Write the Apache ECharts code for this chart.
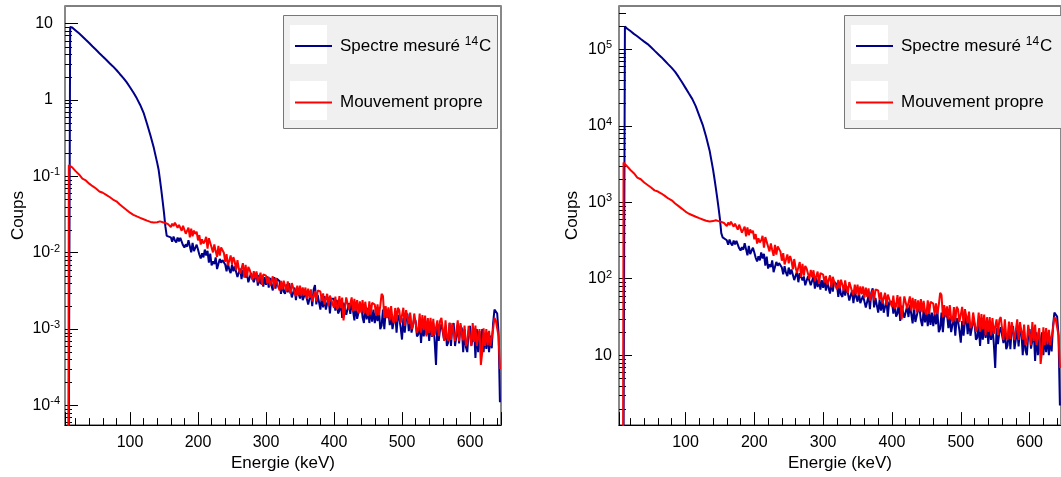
<!DOCTYPE html>
<html><head><meta charset="utf-8">
<script src="https://cdn.jsdelivr.net/npm/echarts@6/dist/echarts.min.js"></script>
<style>html,body{margin:0;padding:0;background:#fff}#c{width:1061px;height:477px}</style>
</head><body><div id="c"></div>
<script>
// ---------- data ----------
const seriesNames = ['Spectre mesuré ¹⁴C', 'Mouvement propre'];

// bin energies (keV)
const energies = [
  5, 9, 10, 12, 15, 20, 25, 30, 35, 40, 45, 50, 55, 60, 65, 70, 75, 80, 85, 90, 95, 100,
  105, 110, 115, 120, 125, 130, 135, 140,
  142, 144, 146, 148, 150, 152, 154, 156,
  160, 162, 164, 166, 168, 170, 172, 174, 176, 178,
  180, 182, 184, 186, 188, 190, 192, 194, 196, 198,
  200, 202, 204, 206, 208, 210, 212, 214, 216, 218,
  220, 222, 224, 226, 228, 230, 232, 234, 236, 238,
  240, 242, 244, 246, 248, 250, 252, 254, 256, 258,
  260, 262, 264, 266, 268, 270, 272, 274, 276, 278,
  280, 282, 284, 286, 288, 290, 292, 294, 296, 298,
  300, 302, 304, 306, 308, 310, 312, 314, 316, 318,
  320, 322, 324, 326, 328, 330, 332, 334, 336, 338,
  340, 342, 344, 346, 348, 350, 352, 354, 356, 358,
  360, 362, 364, 366, 368, 370, 372, 374, 376, 378,
  380, 382, 384, 386, 388, 390, 392, 394, 396, 398,
  400, 402, 404, 406, 408, 410, 412, 414, 416, 418,
  420, 422, 424, 426, 428, 430, 432, 434, 436, 438,
  440, 442, 444, 446, 448, 450, 452, 454, 456, 458,
  460, 462, 464, 466, 468, 470, 472, 474, 476, 478,
  480, 482, 484, 486, 488, 490, 492, 494, 496, 498,
  500, 502, 504, 506, 508, 510, 512, 514, 516, 518,
  520, 522, 524, 526, 528, 530, 532, 534, 536, 538,
  540, 542, 544, 546, 548, 550, 552, 554, 556, 558,
  560, 562, 564, 566, 568, 570, 572, 574, 576, 578,
  580, 582, 584, 586, 588, 590, 592, 594, 596, 598,
  600, 602, 604, 606, 608, 610, 612, 614, 616, 618,
  620, 622, 624, 626, 628, 630, 632, 634, 636, 638,
  640, 642, 644];

// left panel: normalised spectra
const spectreLeft = [
  1e-7, 1e-7, 1e-7, 9.0, 8.91, 8.15, 7.45, 6.79, 6.14, 5.56, 5.02, 4.54, 4.10, 3.71, 3.36, 3.03, 2.75, 2.47, 2.19, 1.95, 1.71, 1.47,
  1.25, 1.05, 0.861, 0.679, 0.488, 0.345, 0.236, 0.150,
  0.123, 0.0910, 0.0667, 0.0475, 0.0333, 0.0221, 0.0166, 0.0158,
  0.0159, 0.0139, 0.0163, 0.0145, 0.0136, 0.0158, 0.0141, 0.0156, 0.0151, 0.0125,
  0.0117, 0.0129, 0.0120, 0.0146, 0.0140, 0.0101, 0.0134, 0.0105, 0.0116, 0.0127,
  0.0110, 0.0094, 0.0084, 0.0098, 0.0087, 0.0110, 0.0092, 0.0106, 0.0074, 0.0097,
  0.0068, 0.0077, 0.0071, 0.0087, 0.0061, 0.0064, 0.0083, 0.0074, 0.0080, 0.0076,
  0.0070, 0.0057, 0.0073, 0.0060, 0.0054, 0.0070, 0.0057, 0.0066, 0.0063, 0.0048,
  0.0050, 0.0062, 0.0045, 0.0059, 0.0057, 0.00475, 0.00536, 0.0041, 0.00432, 0.0054,
  0.0052, 0.0041, 0.00435, 0.0054, 0.0037, 0.00512, 0.00389, 0.0050, 0.0036, 0.0048,
  0.0038, 0.0049, 0.0035, 0.00468, 0.00372, 0.0032, 0.0048, 0.00339, 0.00457, 0.0044,
  0.00422, 0.0029, 0.0040, 0.00309, 0.0029, 0.00385, 0.00302, 0.0040, 0.0038, 0.0026,
  0.00275, 0.0035, 0.0024, 0.00335, 0.0035, 0.00251, 0.00337, 0.0024, 0.00251, 0.0030,
  0.00286, 0.0021, 0.00222, 0.0030, 0.0020, 0.0033, 0.00376, 0.00211, 0.0028, 0.00285,
  0.0018, 0.00265, 0.00192, 0.0027, 0.0018, 0.00191, 0.00259, 0.0016, 0.0025, 0.00236,
  0.0025, 0.00175, 0.00242, 0.0016, 0.00175, 0.0024, 0.0014, 0.00222, 0.0023, 0.00154,
  0.0015, 0.00218, 0.00158, 0.0023, 0.00219, 0.0013, 0.0021, 0.00136, 0.0013, 0.00196,
  0.0021, 0.00143, 0.0012, 0.00198, 0.00134, 0.0019, 0.0012, 0.00185, 0.00125, 0.0018,
  0.0012, 0.00172, 0.00127, 0.0019, 0.0010, 0.00111, 0.0018, 0.0010, 0.0017, 0.0016,
  0.0017, 0.00113, 0.00156, 0.0010, 0.00105, 0.0016, 0.0009, 0.00152, 0.0014, 0.00105,
  0.00073, 0.0014, 0.0009, 0.00136, 0.0016, 0.00094, 0.0015, 0.0009, 0.00092, 0.0014,
  0.00128, 0.0008, 0.00085, 0.0013, 0.00066, 0.0012, 0.0008, 0.00126, 0.00084, 0.0013,
  0.0007, 0.00124, 0.00079, 0.0012, 0.0007, 0.00034, 0.00114, 0.0007, 0.0010, 0.00116,
  0.0012, 0.00072, 0.00107, 0.0006, 0.00067, 0.0012, 0.0006, 0.00109, 0.0012, 0.0006,
  0.0006, 0.0011, 0.00065, 0.0011, 0.00102, 0.0005, 0.0010, 0.00058, 0.0005, 0.00094,
  0.0011, 0.00061, 0.0006, 0.00101, 0.00042, 0.0010, 0.0005, 0.00094, 0.00052, 0.0010,
  0.0005, 0.00088, 0.00055, 0.0009, 0.0005, 0.00082, 0.00056, 0.0012, 0.0018, 0.0017,
  0.0016, 0.0009, 0.00011];

const propreLeft = [
  1e-7, 1e-7, 0.140, 0.138, 0.131, 0.117, 0.106, 0.0931, 0.0883, 0.0802, 0.0743, 0.0692, 0.0634, 0.061, 0.0573, 0.0536, 0.0497, 0.0471, 0.0427, 0.0394, 0.0363, 0.0334,
  0.0313, 0.0299, 0.0286, 0.0274, 0.0263, 0.0253, 0.0248, 0.0251,
  0.0252, 0.0257, 0.0254, 0.0251, 0.0248, 0.0245, 0.024, 0.0237,
  0.0216, 0.0240, 0.0223, 0.0247, 0.0239, 0.0212, 0.0232, 0.0219, 0.0194, 0.0225,
  0.0200, 0.0177, 0.0182, 0.0213, 0.0159, 0.0207, 0.0164, 0.0195, 0.0176, 0.0188,
  0.0145, 0.0170, 0.0128, 0.0150, 0.0132, 0.0141, 0.0161, 0.0113, 0.0155, 0.0146,
  0.0117, 0.0101, 0.0128, 0.0105, 0.0088, 0.0123, 0.00916, 0.0117, 0.0112, 0.0100,
  0.0076, 0.00955, 0.0068, 0.00787, 0.0092, 0.00705, 0.00875, 0.00766, 0.0059, 0.0080,
  0.00617, 0.0053, 0.00555, 0.0073, 0.0047, 0.00695, 0.00485, 0.0065, 0.0060, 0.0062,
  0.0044, 0.00575, 0.00461, 0.0057, 0.0041, 0.0043, 0.00547, 0.0038, 0.0052, 0.005,
  0.0050, 0.00394, 0.00483, 0.0037, 0.00383, 0.0049, 0.0034, 0.0047, 0.0045, 0.00356,
  0.0032, 0.00427, 0.0033, 0.0043, 0.00413, 0.0031, 0.0042, 0.00327, 0.0029, 0.004,
  0.0039, 0.00302, 0.0027, 0.0037, 0.00279, 0.0037, 0.0027, 0.0035, 0.00277, 0.0035,
  0.0025, 0.00339, 0.00257, 0.0033, 0.0023, 0.0024, 0.00316, 0.0023, 0.0032, 0.00302,
  0.0031, 0.00234, 0.00294, 0.0021, 0.00218, 0.0029, 0.0020, 0.00274, 0.0028, 0.00212,
  0.0019, 0.00267, 0.0018, 0.00195, 0.0027, 0.00188, 0.00258, 0.0013, 0.00137, 0.0026,
  0.00251, 0.0018, 0.00183, 0.0026, 0.0017, 0.00249, 0.00173, 0.0024, 0.0016, 0.0023,
  0.00164, 0.0024, 0.0016, 0.00228, 0.00166, 0.0015, 0.0023, 0.00154, 0.00221, 0.0022,
  0.00209, 0.0015, 0.0021, 0.00152, 0.002, 0.0029, 0.00271, 0.0014, 0.0020, 0.00139,
  0.00193, 0.0013, 0.0020, 0.00134, 0.0012, 0.00189, 0.00125, 0.0019, 0.00177, 0.0012,
  0.00123, 0.0019, 0.0011, 0.00177, 0.0017, 0.00116, 0.00164, 0.0010, 0.00108, 0.0016,
  0.00155, 0.0009, 0.00099, 0.0016, 0.0009, 0.00152, 0.00097, 0.0015, 0.0008, 0.00139,
  0.00089, 0.0014, 0.0008, 0.00136, 0.00084, 0.0008, 0.0013, 0.00081, 0.00128, 0.0014,
  0.00132, 0.0007, 0.0013, 0.00078, 0.0007, 0.00122, 0.00072, 0.0012, 0.00118, 0.0007,
  0.00073, 0.0013, 0.0007, 0.0012, 0.0012, 0.00071, 0.00111, 0.0006, 0.00066, 0.0011,
  0.00108, 0.0006, 0.0012, 0.00068, 0.00111, 0.0006, 0.00059, 0.0010, 0.00034, 0.0005,
  0.00102, 0.0006, 0.0010, 0.00061, 0.00095, 0.0006, 0.00062, 0.0010, 0.0014, 0.0013,
  0.00126, 0.0008, 0.0003];

// right panel: raw counts
const spectreRight = [
  1e-3, 1e-3, 1e-3, 199000, 187000, 173000, 159000, 148000, 136000, 126000, 117000, 106000, 96000, 87000, 78900, 70800, 63500, 57100, 50700, 43500, 37100, 31300,
  26400, 22300, 17900, 13600, 10300, 7190, 4760, 2690,
  2060, 1550, 1160, 849, 611, 395, 347, 339,
  318, 278, 326, 290, 272, 316, 282, 312, 302, 250,
  234, 258, 240, 292, 280, 202, 268, 210, 232, 254,
  220, 188, 168, 196, 174, 220, 184, 212, 148, 194,
  136, 154, 142, 174, 122, 128, 166, 148, 160, 152,
  140, 114, 146, 120, 108, 140, 114, 132, 126, 96,
  100, 124, 90, 118, 114, 95, 107, 82, 86.4, 108,
  104, 82, 87, 108, 74, 102, 77.8, 100, 72, 96,
  76, 98, 70, 93.6, 74.4, 64, 96, 67.8, 91.4, 88,
  84.4, 58, 80, 61.8, 58, 77, 60.4, 80, 76, 52,
  55, 70, 48, 67, 70, 50.2, 67.4, 48, 50.2, 60,
  57.2, 42, 44.4, 60, 40, 66, 75.2, 42.2, 56, 57,
  36, 53, 38.4, 54, 36, 38.2, 51.8, 32, 50, 47.2,
  50, 35, 48.4, 32, 35, 48, 28, 44.4, 46, 30.8,
  30, 43.6, 31.6, 46, 43.8, 26, 42, 27.2, 26, 39.2,
  42, 28.6, 24, 39.6, 26.8, 38, 24, 37, 25, 36,
  24, 34.4, 25.4, 38, 20, 22.2, 36, 20, 34, 32,
  34, 22.6, 31.2, 20, 21, 32, 18, 30.4, 28, 21,
  14.6, 28, 18, 27.2, 32, 18.8, 30, 18, 18.4, 28,
  25.6, 16, 17, 26, 13.2, 24, 16, 25.2, 16.8, 26,
  14, 24.8, 15.8, 24, 14, 6.8, 22.8, 14, 20, 23.2,
  24, 14.4, 21.4, 12, 13.4, 24, 12, 21.8, 24, 12,
  12, 22, 13, 22, 20.4, 10, 20, 11.6, 10, 18.8,
  22, 12.2, 12, 20.2, 8.4, 20, 10, 18.8, 10.4, 20,
  10, 17.6, 11, 18, 10, 16.4, 11.2, 24, 36, 34,
  32, 18, 2.2];

const propreRight = [
  1e-3, 1e-3, 3300, 3200, 2960, 2640, 2400, 2100, 2000, 1810, 1680, 1560, 1430, 1380, 1300, 1210, 1120, 1060, 965, 890, 820, 755,
  707, 676, 646, 619, 594, 572, 560, 567,
  570, 581, 574, 567, 560, 554, 542, 536,
  488, 542, 504, 558, 540, 479, 524, 495, 438, 509,
  452, 400, 411, 481, 359, 468, 371, 441, 398, 425,
  328, 384, 289, 339, 298, 319, 364, 255, 350, 330,
  264, 228, 289, 237, 199, 278, 207, 264, 253, 226,
  172, 216, 154, 178, 208, 159, 198, 173, 133, 181,
  139, 120, 125, 165, 106, 157, 110, 147, 136, 140,
  99.4, 130, 104, 129, 92.7, 97.2, 124, 85.9, 118, 113,
  113, 89, 109, 83.6, 86.6, 111, 76.8, 106, 102, 80.5,
  72.3, 96.5, 74.6, 97.2, 93.3, 70.1, 94.9, 73.9, 65.5, 90.4,
  88.1, 68.3, 61, 83.6, 63.1, 83.6, 61, 79.1, 62.6, 79.1,
  56.5, 76.6, 58.1, 74.6, 52, 54.2, 71.4, 52, 72.3, 68.3,
  70.1, 52.9, 66.4, 47.5, 49.3, 65.5, 45.2, 61.9, 63.3, 47.9,
  42.9, 60.3, 40.7, 44.1, 61, 42.5, 58.3, 29.4, 31, 58.8,
  56.7, 40.7, 41.4, 58.8, 38.4, 56.3, 39.1, 54.2, 36.2, 52,
  37.1, 54.2, 36.2, 51.5, 37.5, 33.9, 52, 34.8, 49.9, 49.7,
  47.2, 33.9, 47.5, 34.4, 45.2, 65.5, 61.2, 31.6, 45.2, 31.4,
  43.6, 29.4, 45.2, 30.3, 27.1, 42.7, 28.3, 42.9, 40, 27.1,
  27.8, 42.9, 24.9, 40, 38.4, 26.2, 37.1, 22.6, 24.4, 36.2,
  35, 20.3, 22.4, 36.2, 20.3, 34.4, 21.9, 33.9, 18.1, 31.4,
  20.1, 31.6, 18.1, 30.7, 19, 18.1, 29.4, 18.3, 28.9, 31.6,
  29.8, 15.8, 29.4, 17.6, 15.8, 27.6, 16.3, 27.1, 26.7, 15.8,
  16.5, 29.4, 15.8, 27.1, 27.1, 16, 25.1, 13.6, 14.9, 24.9,
  24.4, 13.6, 27.1, 15.4, 25.1, 13.6, 13.3, 22.6, 7.7, 11.3,
  23.1, 13.6, 22.6, 13.8, 21.5, 13.6, 14, 22.6, 31.6, 29.4,
  28.5, 18.1, 6.8];

// log-axis minor tick mantissas and decades
const minorMantissas = [2, 3, 4, 5, 6, 7, 8, 9];
const leftDecades = [-5, -4, -3, -2, -1, 0, 1];
const rightDecades = [0, 1, 2, 3, 4, 5];

// ---------- chart ----------
const FONT = "'Liberation Sans', Arial, Helvetica, sans-serif";
const BLUE = '#00008b', RED = '#ff0000';
const L = { xmin: 4.4, xmax: 645.6, ymin: 5.53e-5, ymax: 17.0 };
const R = { xmin: 3.4, xmax: 645.6, ymin: 1.22, ymax: 3.68e5 };

function minorValues(decades, lo, hi) {
  const out = [];
  decades.forEach(d => minorMantissas.forEach(m => {
    const v = m * Math.pow(10, d);
    if (v > lo && v < hi) out.push(v);
  }));
  return out;
}
const pair = (xs, ys) => xs.map((x, i) => [x, ys[i]]);

function xAxisDef(grid, lim) {
  return {
    type: 'value', gridIndex: grid, min: lim.xmin, max: lim.xmax,
    name: 'Energie (keV)', nameLocation: 'middle', nameGap: 20,
    nameTextStyle: { fontFamily: FONT, fontSize: 17, color: '#000' },
    axisLine: { show: true, onZero: false, lineStyle: { color: '#000', width: 1 } },
    axisTick: { show: true, inside: true, length: 13, lineStyle: { color: '#000' } },
    minorTick: { show: true, splitNumber: 5, length: 7, lineStyle: { color: '#000' } },
    axisLabel: { showMinLabel: false, showMaxLabel: false, margin: 9, fontFamily: FONT, fontSize: 16, color: '#000' },
    splitLine: { show: false }, minorSplitLine: { show: false }
  };
}
const supRich = {
  sup: { fontFamily: FONT, fontSize: 11, color: '#000', padding: [0, 0, 8, 0] },
  p: { fontFamily: FONT, fontSize: 16, color: '#000', padding: [0, 7, 0, 0] }
};
function yAxisDef(grid, lim, fmt, margin) {
  return {
    type: 'log', gridIndex: grid, min: lim.ymin, max: lim.ymax, logBase: 10,
    name: 'Coups', nameLocation: 'middle', nameGap: 38,
    nameTextStyle: { fontFamily: FONT, fontSize: 17, color: '#000' },
    axisLine: { show: true, onZero: false, lineStyle: { color: '#888', width: 2 } },
    axisTick: { show: true, inside: true, length: 13, lineStyle: { color: '#000' } },
    minorTick: { show: false },
    axisLabel: { showMinLabel: false, showMaxLabel: false, margin: margin, fontFamily: FONT, fontSize: 16, color: '#000', formatter: fmt, rich: supRich },
    splitLine: { show: false }
  };
}
function borderAxis(grid) {
  return {
    type: 'value', gridIndex: grid, position: 'right', min: 0, max: 1,
    axisLine: { show: true, onZero: false, lineStyle: { color: '#888', width: 2 } },
    axisTick: { show: false }, axisLabel: { show: false }, splitLine: { show: false }
  };
}
const leftFmt = v => {
  const e = Math.round(Math.log10(v));
  if (e === 0) return '{p|1}';
  if (e === 1) return '{p|10}';
  return '10{sup|' + e + '}';
};
const rightFmt = v => {
  const e = Math.round(Math.log10(v));
  if (e === 1) return '10';
  return '10{sup|' + e + '}';
};
function minorTickSeries(xi, yi, xmin, vals) {
  return {
    type: 'custom', xAxisIndex: xi, yAxisIndex: yi, silent: true, clip: false, z: 3,
    data: vals.map(v => [xmin, v]),
    renderItem: (params, api) => {
      const p = api.coord([api.value(0), api.value(1)]);
      const y = Math.round(p[1]) + 0.5;
      return { type: 'line', shape: { x1: p[0], y1: y, x2: p[0] + 7, y2: y }, style: { stroke: '#000', lineWidth: 1 } };
    }
  };
}
function lineSeries(name, xi, yi, data, color) {
  return {
    type: 'line', name: name, xAxisIndex: xi, yAxisIndex: yi, data: data,
    symbol: 'none', showSymbol: false, clip: true,
    lineStyle: { width: 2, color: color }, itemStyle: { color: color }
  };
}
function legendDef(left) {
  return {
    orient: 'vertical', left: left, top: 31, itemWidth: 37, itemHeight: 2, itemGap: 36.5,
    icon: 'rect',
    data: seriesNames, z: 8, backgroundColor: 'transparent', selectedMode: false,
    formatter: n => n === seriesNames[0] ? 'Spectre mesuré {sup|14}C' : n,
    textStyle: { fontFamily: FONT, fontSize: 17, lineHeight: 20, color: '#000', padding: [0, 0, 0, 3],
      rich: { sup: { fontFamily: FONT, fontSize: 12, lineHeight: 20, color: '#000', padding: [0, 1, 8, 0] } } }
  };
}

const chart = echarts.init(document.getElementById('c'), null, { renderer: 'canvas' });
chart.setOption({
  animation: false,
  backgroundColor: '#fff',
  grid: [
    { left: 65, top: 6, width: 436, height: 427, show: true, borderColor: '#000', borderWidth: 1, backgroundColor: 'transparent' },
    { left: 619, top: 6, width: 448, height: 426, show: true, borderColor: '#000', borderWidth: 1, backgroundColor: 'transparent' }
  ],
  xAxis: [xAxisDef(0, L), xAxisDef(1, R)],
  yAxis: [yAxisDef(0, L, leftFmt, 5), borderAxis(0), yAxisDef(1, R, rightFmt, 7), borderAxis(1)],
  legend: [legendDef(290), legendDef(851)],
  graphic: [
    { type: 'rect', z: 5, shape: { x: 283.5, y: 15.5, width: 214, height: 113 }, style: { fill: '#f0f0f0', stroke: '#777', lineWidth: 1 } },
    { type: 'rect', z: 6, shape: { x: 290, y: 25, width: 37, height: 39 }, style: { fill: '#fff' } },
    { type: 'rect', z: 6, shape: { x: 290, y: 81, width: 37, height: 39 }, style: { fill: '#fff' } },
    { type: 'rect', z: 5, shape: { x: 844.5, y: 15.5, width: 240, height: 113 }, style: { fill: '#f0f0f0', stroke: '#777', lineWidth: 1 } },
    { type: 'rect', z: 6, shape: { x: 851, y: 25, width: 37, height: 39 }, style: { fill: '#fff' } },
    { type: 'rect', z: 6, shape: { x: 851, y: 81, width: 37, height: 39 }, style: { fill: '#fff' } }
  ],
  series: [
    lineSeries(seriesNames[0], 0, 0, pair(energies, spectreLeft), BLUE),
    lineSeries(seriesNames[1], 0, 0, pair(energies, propreLeft), RED),
    lineSeries(seriesNames[0], 1, 2, pair(energies, spectreRight), BLUE),
    lineSeries(seriesNames[1], 1, 2, pair(energies, propreRight), RED),
    minorTickSeries(0, 0, L.xmin, minorValues(leftDecades, L.ymin, L.ymax)),
    minorTickSeries(1, 2, R.xmin, minorValues(rightDecades, R.ymin, R.ymax))
  ]
});
</script></body></html>
